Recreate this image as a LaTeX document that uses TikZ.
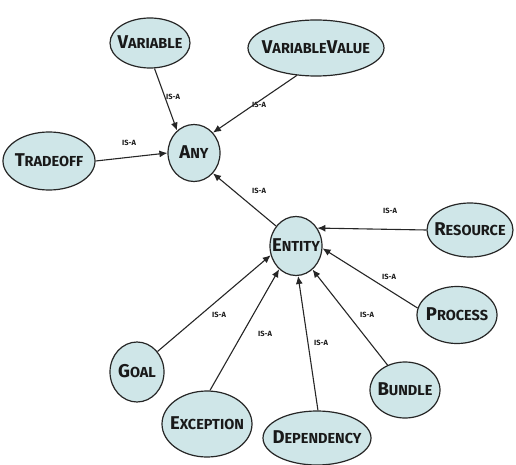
\documentclass[tikz,border=0pt]{standalone}
\usepackage{fontspec}
\setmainfont{Fira Sans}
\usetikzlibrary{shapes.geometric,arrows.meta}
\newcommand{\capt}[2]{{\fontsize{18.5}{16}\selectfont #1}{\fontsize{14.5}{12}\selectfont #2}}
\newcommand{\inbubble}[1]{\makebox[0pt]{\raisebox{-5.5pt}[0pt][0pt]{#1}}}
\definecolor{bubble}{RGB}{207,230,232}
\tikzset{
  concept/.style={ellipse,draw=black!85,line width=1.2pt,fill=bubble,inner sep=0pt,text=black!90,font=\bfseries,
    text height=0pt,text depth=0pt},
  isa/.style={line width=1.1pt,draw=black!85,-{Latex[length=8pt,width=7pt]}},
  lab/.style={font=\fontsize{7.5}{7}\selectfont\bfseries,text=black!90}
}
\begin{document}
\begin{tikzpicture}[x=1pt,y=-1pt]
\useasboundingbox (0,0) rectangle (516,465);
\node[concept,minimum width=80,minimum height=50] (var) at (150,43) {\inbubble{\capt{V}{ARIABLE}}} ;
\node[concept,minimum width=136,minimum height=56] (varval) at (316,48) {\inbubble{\capt{V}{ARIABLE}\capt{V}{ALUE}}} ;
\node[concept,minimum width=52,minimum height=57] (any) at (194,153) {\inbubble{\capt{A}{NY}}} ;
\node[concept,minimum width=92,minimum height=58] (trade) at (49,161) {\inbubble{\capt{T}{RADEOFF}}} ;
\node[concept,minimum width=52,minimum height=59] (entity) at (296,246) {\inbubble{\capt{E}{NTITY}}} ;
\node[concept,minimum width=86,minimum height=54] (res) at (470,230) {\inbubble{\capt{R}{ESOURCE}}} ;
\node[concept,minimum width=80,minimum height=57] (proc) at (457,315) {\inbubble{\capt{P}{ROCESS}}} ;
\node[concept,minimum width=70,minimum height=56] (bundle) at (405,390) {\inbubble{\capt{B}{UNDLE}}} ;
\node[concept,minimum width=108,minimum height=54] (dep) at (317,438) {\inbubble{\capt{D}{EPENDENCY}}} ;
\node[concept,minimum width=54,minimum height=60] (goal) at (137,372) {\inbubble{\capt{G}{OAL}}} ;
\node[concept,minimum width=90,minimum height=66] (exc) at (207,424) {\inbubble{\capt{E}{XCEPTION}}} ;
% is-a labels
\node[lab] (l1) at (173,97) {IS-A} ;
\node[lab] (l2) at (259,105) {IS-A} ;
\node[lab] (l3) at (129,143) {IS-A} ;
\node[lab] (l4) at (259,191) {IS-A} ;
\node[lab] (l5) at (390,211) {IS-A} ;
\node[lab] (l6) at (389,277) {IS-A} ;
\node[lab] (l7) at (367,315) {IS-A} ;
\node[lab] (l8) at (321,343) {IS-A} ;
\node[lab] (l9) at (265,334) {IS-A} ;
\node[lab] (l10) at (219,315) {IS-A} ;
% arrows
\draw[isa] (var.-80) to (any.127) ;
\draw[isa] (varval.-125) to (any.47) ;
\draw[isa] (trade.east) to (any.180) ;
\draw[isa] (entity.135) to (any.-47) ;
\draw[isa] (res.west) to (entity.40) ;
\draw[isa] (proc.170) to (entity.-5) ;
\draw[isa] (bundle.125) to (entity.-55) ;
\draw[isa] (dep.88) to (entity.-86) ;
\draw[isa] (exc.85) to (entity.-126) ;
\draw[isa] (goal.45) to (entity.200) ;
\end{tikzpicture}
\end{document}
